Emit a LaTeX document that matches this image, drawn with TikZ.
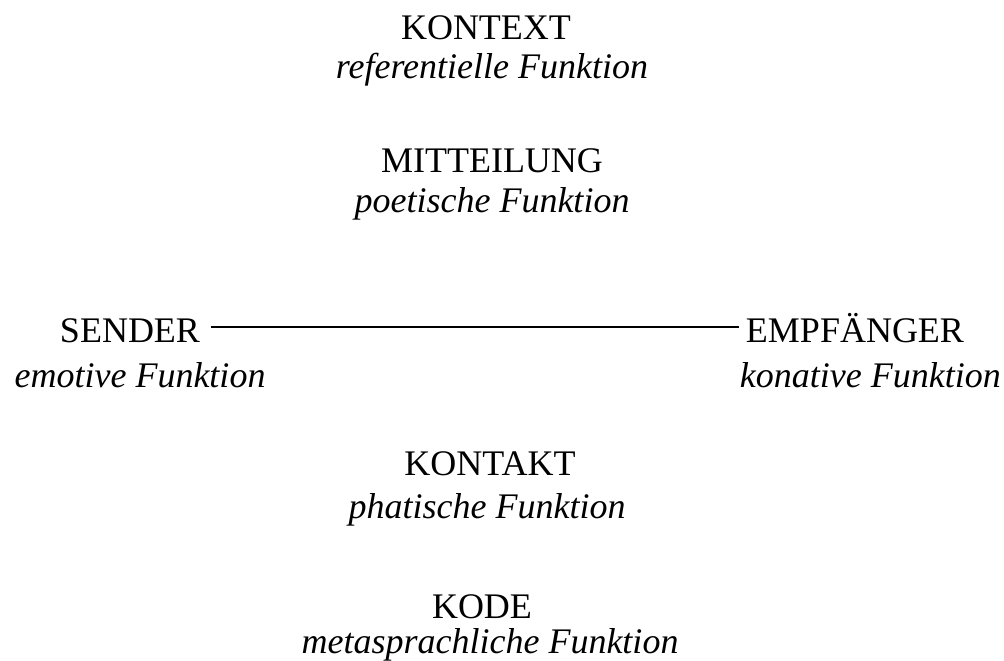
\documentclass[tikz,border=0pt]{standalone}
\usepackage{fontspec}
\setmainfont{Liberation Serif}
\begin{document}
\begin{tikzpicture}[x=1pt,y=-1pt,
  lbl/.style={anchor=base,inner sep=0pt,font=\fontsize{36}{40}\selectfont},
  fn/.style={lbl,font=\fontsize{36}{40}\selectfont\itshape},
  link/.style={line width=1.4pt}]
\useasboundingbox (0,0) rectangle (1004,661);
\node[lbl] (kontext) at (486,40) {KONTEXT};
\node[fn] (kontextf) at (492,78) {referentielle Funktion};
\node[lbl] (mitt) at (492,172) {MITTEILUNG};
\node[fn] (mittf) at (492,212) {poetische Funktion};
\node[lbl] (sender) at (130,342) {SENDER};
\node[fn] (senderf) at (140,387) {emotive Funktion};
\node[lbl] (empf) at (855,342) {EMPFÄNGER};
\node[fn,anchor=base east] (empff) at (1001,387) {konative Funktion};
\node[lbl] (kontakt) at (490,475) {KONTAKT};
\node[fn] (kontaktf) at (487,518) {phatische Funktion};
\node[lbl] (kode) at (482,618) {KODE};
\node[fn] (kodef) at (490,653) {metasprachliche Funktion};
\draw[link] ([xshift=11pt,yshift=15pt]sender.base east) -- ([xshift=-7pt,yshift=15pt]empf.base west);
\end{tikzpicture}
\end{document}
